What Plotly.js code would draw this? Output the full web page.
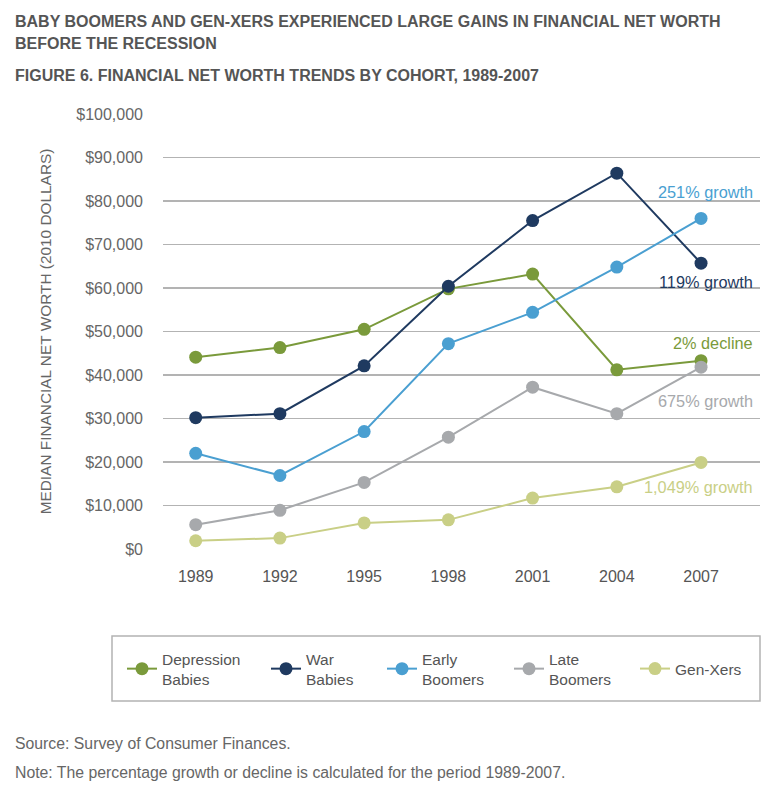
<!DOCTYPE html>
<html>
<head>
<meta charset="utf-8">
<script src="https://cdn.plot.ly/plotly-3.0.1.min.js"></script>
<style>
  html, body { margin: 0; padding: 0; background: #fff; }
  #chart { width: 780px; height: 792px; }
</style>
</head>
<body>
<div id="chart"></div>
<script>
// ---- Data ----
const years = [1989, 1992, 1995, 1998, 2001, 2004, 2007];
const depressionBabies = [44100, 46300, 50500, 59800, 63200, 41200, 43300];
const warBabies        = [30200, 31100, 42100, 60400, 75500, 86400, 65700];
const earlyBoomers     = [22000, 16900, 27000, 47200, 54400, 64800, 76000];
const lateBoomers      = [5600, 8900, 15300, 25700, 37200, 31100, 41800];
const genXers          = [1900, 2500, 6000, 6700, 11700, 14300, 19900];
const seriesNames = ["Depression<br>Babies", "War<br>Babies", "Early<br>Boomers", "Late<br>Boomers", "Gen-Xers"];
const seriesColors = ["#7a9a3b", "#1f3a60", "#4a9fd1", "#a7a9ac", "#c9cf86"];
const endLabels = ["2% decline", "119% growth", "251% growth", "675% growth", "1,049% growth"];
const yTickVals = [0, 10000, 20000, 30000, 40000, 50000, 60000, 70000, 80000, 90000, 100000];
const yTickText = ["$0", "$10,000", "$20,000", "$30,000", "$40,000", "$50,000", "$60,000", "$70,000", "$80,000", "$90,000", "$100,000"];

const allSeries = [depressionBabies, warBabies, earlyBoomers, lateBoomers, genXers];

// ---- Layout geometry (pixels) ----
const W = 780, H = 792;
const L = 163, R = 20, T = 114, B = 243;
const plotH = H - T - B;
const plotW = W - L - R;
const py = p => (H - B - p) / plotH;   // pixel y -> paper y
const px = p => (p - L) / plotW;       // pixel x -> paper x

const FONT = "Liberation Sans, Arial, Helvetica, sans-serif";

const legendIds = ["legend", "legend2", "legend3", "legend4", "legend5"];
const legendSymbolX = [142, 286, 402, 529, 655];

const traces = allSeries.map((vals, i) => ({
  type: "scatter",
  mode: "lines+markers",
  x: years,
  y: vals,
  name: seriesNames[i],
  legend: legendIds[i],
  line: { color: seriesColors[i], width: 2 },
  marker: { color: seriesColors[i], size: 13 },
  hoverinfo: "x+y"
}));

// growth label positions (pixel y of label center)
const labelY = [343, 282, 192, 401, 487];

const annotations = [
  { text: "<b>BABY BOOMERS AND GEN-XERS EXPERIENCED LARGE GAINS IN FINANCIAL NET WORTH</b>", x: px(13), y: py(21), xanchor: "left", yanchor: "middle", font: { size: 16, color: "#555555", family: FONT } },
  { text: "<b>BEFORE THE RECESSION</b>", x: px(13), y: py(43), xanchor: "left", yanchor: "middle", font: { size: 16, color: "#555555", family: FONT } },
  { text: "<b>FIGURE 6. FINANCIAL NET WORTH TRENDS BY COHORT, 1989-2007</b>", x: px(13), y: py(76), xanchor: "left", yanchor: "middle", font: { size: 16, color: "#555555", family: FONT } },
  { text: "Source: Survey of Consumer Finances.", x: px(13), y: py(743), xanchor: "left", yanchor: "middle", font: { size: 15.8, color: "#666666", family: FONT } },
  { text: "Note: The percentage growth or decline is calculated for the period 1989-2007.", x: px(13), y: py(772), xanchor: "left", yanchor: "middle", font: { size: 15.8, color: "#666666", family: FONT } }
].map(a => Object.assign({ xref: "paper", yref: "paper", showarrow: false, align: "left" }, a));

endLabels.forEach((t, i) => {
  annotations.push({
    text: t, xref: "paper", yref: "paper", x: px(755), y: py(labelY[i]),
    xanchor: "right", yanchor: "middle", showarrow: false,
    font: { size: 16.3, color: seriesColors[i], family: FONT }
  });
});

const layout = {
  width: W, height: H,
  margin: { l: L, r: R, t: T, b: B, pad: 0 },
  paper_bgcolor: "#ffffff",
  plot_bgcolor: "#ffffff",
  showlegend: true,
  font: { family: FONT, color: "#555555" },
  xaxis: {
    type: "linear",
    range: [1987.835, 2009.1],
    tickvals: years,
    ticktext: years.map(String),
    showgrid: false, zeroline: false, showline: false,
    ticks: "",
    tickfont: { size: 16, color: "#555555", family: FONT },
    ticklabelstandoff: 16
  },
  yaxis: {
    range: [0, 100000],
    tickvals: yTickVals,
    ticktext: yTickText,
    showgrid: true, gridcolor: "#b3b3b3", gridwidth: 1.5,
    zeroline: false, showline: false, ticks: "",
    tickfont: { size: 16, color: "#666666", family: FONT },
    ticklabelstandoff: 19,
    title: { text: "MEDIAN FINANCIAL NET WORTH (2010 DOLLARS)", font: { size: 15.4, color: "#666666", family: FONT }, standoff: 20 }
  },
  shapes: [
    { type: "rect", xref: "paper", yref: "paper", x0: px(112), x1: px(760), y0: py(636), y1: py(701),
      line: { color: "#b3b3b3", width: 1.5 }, fillcolor: "rgba(0,0,0,0)" }
  ],
  annotations: annotations
};

legendIds.forEach((id, i) => {
  layout[id] = {
    orientation: "v",
    x: px(legendSymbolX[i] - 20), y: py(669),
    xanchor: "left", yanchor: "middle",
    xref: "paper", yref: "paper",
    bgcolor: "rgba(0,0,0,0)",
    borderwidth: 0,
    font: { size: 15.5, color: "#555555", family: FONT },
    itemwidth: 30,
    valign: "middle"
  };
});

Plotly.newPlot("chart", traces, layout, { displayModeBar: false, staticPlot: true });
</script>
</body>
</html>
